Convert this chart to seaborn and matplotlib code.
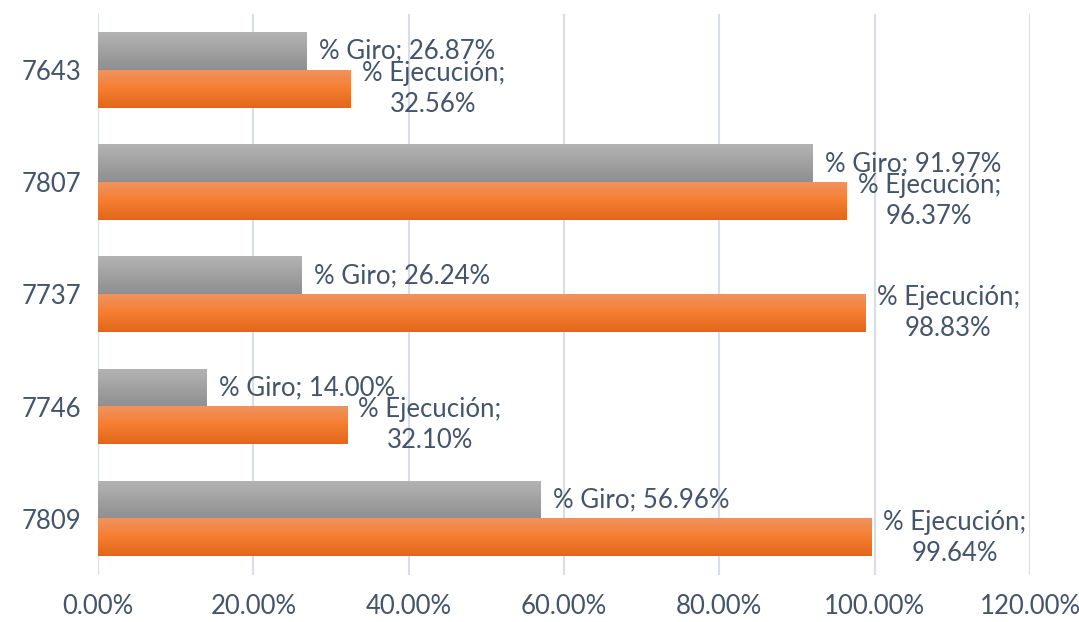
import numpy as np
import pandas as pd
import matplotlib
matplotlib.use("Agg")
import matplotlib.pyplot as plt
from matplotlib.colors import LinearSegmentedColormap
import seaborn as sns

codes = ["7643", "7807", "7737", "7746", "7809"]
giro = [26.87, 91.97, 26.24, 14.00, 56.96]
ejecucion = [32.56, 96.37, 98.83, 32.10, 99.64]
series = ["% Giro", "% Ejecución"]
xticks = [0, 20, 40, 60, 80, 100, 120]

df = pd.DataFrame({
    "code": codes * 2,
    "value": giro + ejecucion,
    "serie": [series[0]] * len(codes) + [series[1]] * len(codes),
})

sns.set_style("white")
plt.rcParams["font.family"] = ["Lato", "DejaVu Sans"]
text_color = "#44546a"
fs = 18.5

fig = plt.figure(figsize=(10.79, 6.22), dpi=100)
ax = fig.add_axes([0.0908, 0.0756, 0.8638, 0.902])

sns.barplot(
    data=df, y="code", x="value", hue="serie", orient="h",
    palette=["#a0a0a0", "#f07f30"], width=0.67, legend=False, ax=ax,
    saturation=1,
)

# gradient fills like the original
cmaps = [
    LinearSegmentedColormap.from_list("g", ["#b3b3b3", "#8f8f8f"]),
    LinearSegmentedColormap.from_list("o", ["#f0935e", "#f47e2e", "#e3661b"]),
]
grad = np.linspace(0, 1, 64).reshape(-1, 1)
for container, cmap in zip(ax.containers, cmaps):
    for bar in container:
        x0, y0 = bar.get_x(), bar.get_y()
        w, h = bar.get_width(), bar.get_height()
        ax.imshow(grad, cmap=cmap, aspect="auto", origin="upper",
                  extent=(x0, x0 + w, y0 + h, y0), zorder=2)
        bar.set_facecolor("none")
        bar.set_edgecolor("none")

# data labels
for bar, v in zip(ax.containers[0], giro):
    ax.annotate(f"{series[0]}; {v:.2f}%",
                (bar.get_x() + bar.get_width(), bar.get_y() + bar.get_height() / 2),
                xytext=(9, 0), textcoords="offset points", ha="left", va="center",
                fontsize=fs, color=text_color, zorder=5)
for bar, v in zip(ax.containers[1], ejecucion):
    ax.annotate(f"{series[1]};\n{v:.2f}%",
                (bar.get_x() + bar.get_width(), bar.get_y() + bar.get_height() / 2),
                xytext=(8, 0), textcoords="offset points", ha="left", va="center",
                multialignment="center", linespacing=1.3,
                fontsize=fs, color=text_color, zorder=5)

ax.set_xlim(0, 120)
ax.set_ylim(4.5, -0.5)
ax.set_xticks(xticks)
ax.set_xticklabels([f"{t:.2f}%" for t in xticks])
ax.set_xlabel("")
ax.set_ylabel("")
ax.tick_params(axis="x", length=0, pad=14, labelsize=fs, colors=text_color)
ax.tick_params(axis="y", length=0, pad=12, labelsize=fs, colors=text_color)
ax.grid(axis="x", color="#d9dde6", linewidth=1.5, zorder=0)
ax.set_axisbelow(True)
for s in ax.spines.values():
    s.set_visible(False)

fig.savefig("out.png", dpi=100)
